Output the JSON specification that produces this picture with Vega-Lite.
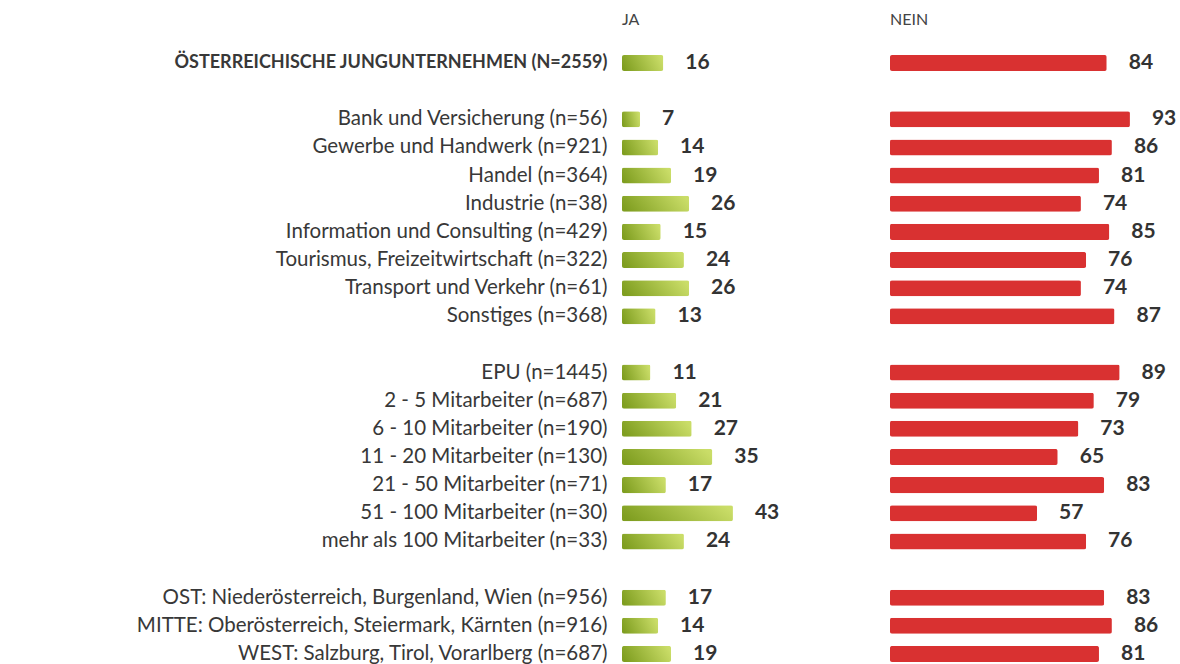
{
  "$schema": "https://vega.github.io/schema/vega-lite/v6.json",
  "background": "white",
  "padding": {"left": 136, "top": 12, "right": 0, "bottom": 0},
  "config": {
    "view": {"stroke": null},
    "font": "Lato",
    "title": {"font": "Lato", "fontSize": 16, "fontWeight": "normal", "color": "#444444", "anchor": "start", "frame": "group", "offset": 24}
  },
  "datasets": {
    "rows": [
      {"label": "ÖSTERREICHISCHE JUNGUNTERNEHMEN (N=2559)", "ja": 16, "nein": 84},
      {"label": "Bank und Versicherung (n=56)", "ja": 7, "nein": 93},
      {"label": "Gewerbe und Handwerk (n=921)", "ja": 14, "nein": 86},
      {"label": "Handel (n=364)", "ja": 19, "nein": 81},
      {"label": "Industrie (n=38)", "ja": 26, "nein": 74},
      {"label": "Information und Consulting (n=429)", "ja": 15, "nein": 85},
      {"label": "Tourismus, Freizeitwirtschaft (n=322)", "ja": 24, "nein": 76},
      {"label": "Transport und Verkehr (n=61)", "ja": 26, "nein": 74},
      {"label": "Sonstiges (n=368)", "ja": 13, "nein": 87},
      {"label": "EPU (n=1445)", "ja": 11, "nein": 89},
      {"label": "2 - 5 Mitarbeiter (n=687)", "ja": 21, "nein": 79},
      {"label": "6 - 10 Mitarbeiter (n=190)", "ja": 27, "nein": 73},
      {"label": "11 - 20 Mitarbeiter (n=130)", "ja": 35, "nein": 65},
      {"label": "21 - 50 Mitarbeiter (n=71)", "ja": 17, "nein": 83},
      {"label": "51 - 100 Mitarbeiter (n=30)", "ja": 43, "nein": 57},
      {"label": "mehr als 100 Mitarbeiter (n=33)", "ja": 24, "nein": 76},
      {"label": "OST: Niederösterreich, Burgenland, Wien (n=956)", "ja": 17, "nein": 83},
      {"label": "MITTE: Oberösterreich, Steiermark, Kärnten (n=916)", "ja": 14, "nein": 86},
      {"label": "WEST: Salzburg, Tirol, Vorarlberg (n=687)", "ja": 19, "nein": 81}
    ]
  },
  "data": {"name": "rows"},
  "spacing": 10,
  "hconcat": [
    {
      "width": 258,
      "height": 607,
      "title": "JA",
      "encoding": {
        "y": {
          "field": "label",
          "type": "nominal",
          "sort": null,
          "scale": {
            "domain": [
              "ÖSTERREICHISCHE JUNGUNTERNEHMEN (N=2559)", " ",
              "Bank und Versicherung (n=56)", "Gewerbe und Handwerk (n=921)", "Handel (n=364)", "Industrie (n=38)",
              "Information und Consulting (n=429)", "Tourismus, Freizeitwirtschaft (n=322)", "Transport und Verkehr (n=61)", "Sonstiges (n=368)",
              "  ",
              "EPU (n=1445)", "2 - 5 Mitarbeiter (n=687)", "6 - 10 Mitarbeiter (n=190)", "11 - 20 Mitarbeiter (n=130)",
              "21 - 50 Mitarbeiter (n=71)", "51 - 100 Mitarbeiter (n=30)", "mehr als 100 Mitarbeiter (n=33)",
              "   ",
              "OST: Niederösterreich, Burgenland, Wien (n=956)", "MITTE: Oberösterreich, Steiermark, Kärnten (n=916)", "WEST: Salzburg, Tirol, Vorarlberg (n=687)"
            ],
            "paddingInner": 0.43,
            "paddingOuter": 0
          },
          "axis": {
            "title": null,
            "domain": false,
            "ticks": false,
            "labelPadding": 15,
            "labelLimit": 800,
            "labelFont": "Lato",
            "labelColor": "#383838",
            "labelFontSize": {"condition": {"test": "datum.value == 'ÖSTERREICHISCHE JUNGUNTERNEHMEN (N=2559)'", "value": 18}, "value": 20.5},
            "labelFontWeight": {"condition": {"test": "datum.value == 'ÖSTERREICHISCHE JUNGUNTERNEHMEN (N=2559)'", "value": "bold"}, "value": "normal"}
          }
        },
        "x": {"field": "ja", "type": "quantitative", "scale": {"domain": [0, 100]}, "axis": null}
      },
      "layer": [
        {
          "mark": {
            "type": "bar",
            "cornerRadius": 2,
            "color": {
              "gradient": "linear", "x1": 0, "y1": 0.6, "x2": 1, "y2": 0.4,
              "stops": [{"offset": 0, "color": "#7f9e20"}, {"offset": 1, "color": "#cadd68"}]
            }
          }
        },
        {
          "mark": {"type": "text", "align": "left", "baseline": "middle", "dx": 22, "font": "Lato", "fontWeight": "bold", "fontSize": 21, "color": "#333333"},
          "encoding": {"text": {"field": "ja", "type": "quantitative"}}
        }
      ]
    },
    {
      "width": 258,
      "height": 607,
      "title": "NEIN",
      "encoding": {
        "y": {
          "field": "label",
          "type": "nominal",
          "sort": null,
          "scale": {
            "domain": [
              "ÖSTERREICHISCHE JUNGUNTERNEHMEN (N=2559)", " ",
              "Bank und Versicherung (n=56)", "Gewerbe und Handwerk (n=921)", "Handel (n=364)", "Industrie (n=38)",
              "Information und Consulting (n=429)", "Tourismus, Freizeitwirtschaft (n=322)", "Transport und Verkehr (n=61)", "Sonstiges (n=368)",
              "  ",
              "EPU (n=1445)", "2 - 5 Mitarbeiter (n=687)", "6 - 10 Mitarbeiter (n=190)", "11 - 20 Mitarbeiter (n=130)",
              "21 - 50 Mitarbeiter (n=71)", "51 - 100 Mitarbeiter (n=30)", "mehr als 100 Mitarbeiter (n=33)",
              "   ",
              "OST: Niederösterreich, Burgenland, Wien (n=956)", "MITTE: Oberösterreich, Steiermark, Kärnten (n=916)", "WEST: Salzburg, Tirol, Vorarlberg (n=687)"
            ],
            "paddingInner": 0.43,
            "paddingOuter": 0
          },
          "axis": null
        },
        "x": {"field": "nein", "type": "quantitative", "scale": {"domain": [0, 100]}, "axis": null}
      },
      "layer": [
        {"mark": {"type": "bar", "cornerRadius": 2, "color": "#d93131"}},
        {
          "mark": {"type": "text", "align": "left", "baseline": "middle", "dx": 22, "font": "Lato", "fontWeight": "bold", "fontSize": 21, "color": "#333333"},
          "encoding": {"text": {"field": "nein", "type": "quantitative"}}
        }
      ]
    }
  ]
}
